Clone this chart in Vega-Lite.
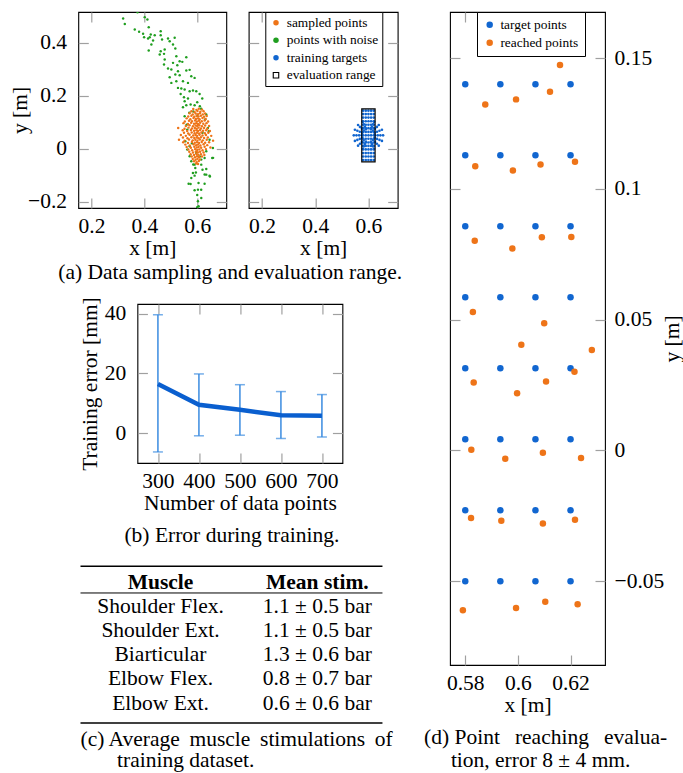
{
  "$schema": "https://vega.github.io/schema/vega-lite/v6.json",
  "padding": {"left": 9, "top": 10, "right": 0, "bottom": 0},
  "background": "white",
  "config": {
    "font": "Liberation Serif",
    "view": {"stroke": "black", "strokeWidth": 1.1},
    "axis": {"domain": false, "grid": false, "ticks": true, "tickColor": "#a0a0a0", "tickWidth": 1.2, "tickSize": -10,
             "labelFont": "Liberation Serif", "labelFontSize": 21.5, "labelColor": "black", "labelFlush": false, "labelOverlap": false,
             "titleFont": "Liberation Serif", "titleFontSize": 21.5, "titleFontWeight": "normal", "titleColor": "black"},
    "axisBottom": {"labelPadding": 17.4, "titlePadding": 1},
    "axisLeft": {"labelPadding": 21.7, "titlePadding": -4},
    "axisRight": {"labelPadding": 19, "titlePadding": -2, "titleAngle": 270, "titleBaseline": "top"},
    "title": {"font": "Liberation Serif", "fontSize": 21.5, "fontWeight": "normal", "color": "black", "orient": "bottom", "frame": "group", "offset": 9, "lineHeight": 22},
    "legend": {"labelFont": "Liberation Serif", "labelFontSize": 13.4, "labelColor": "black", "strokeColor": "black", "fillColor": "white", "padding": 5, "cornerRadius": 0, "rowPadding": 3, "labelOffset": 4}
  },
  "hconcat": [
    {
      "concat": [
        {
          "hconcat": [
            {
              "width": 148, "height": 196,
              "title": {"text": "(a) Data sampling and evaluation range.", "anchor": "start", "dx": -20, "offset": 3},
              "layer": [
                {
                  "data": {"values": [
                    {"x":0.3197,"y":0.4905},{"x":0.326,"y":0.47},{"x":0.374,"y":0.514},{"x":0.4014,"y":0.4956},{"x":0.4115,"y":0.4867},{"x":0.4165,"y":0.4578},{"x":0.3637,"y":0.449},{"x":0.3801,"y":0.4402},{"x":0.3952,"y":0.4327},{"x":0.399,"y":0.4201},{"x":0.414,"y":0.415},{"x":0.4203,"y":0.4201},{"x":0.4241,"y":0.4301},{"x":0.4392,"y":0.4276},{"x":0.4329,"y":0.4075},{"x":0.4266,"y":0.3924},{"x":0.4165,"y":0.3698},{"x":0.4618,"y":0.4427},{"x":0.4618,"y":0.4276},{"x":0.4669,"y":0.4113},{"x":0.4895,"y":0.415},{"x":0.4958,"y":0.405},{"x":0.5147,"y":0.4176},{"x":0.5084,"y":0.3924},{"x":0.5172,"y":0.3773},{"x":0.4769,"y":0.3735},{"x":0.4618,"y":0.3672},{"x":0.4744,"y":0.3572},{"x":0.4581,"y":0.3547},{"x":0.521,"y":0.3484},{"x":0.5587,"y":0.3446},{"x":0.4769,"y":0.3358},{"x":0.4744,"y":0.3169},{"x":0.4895,"y":0.3018},{"x":0.5021,"y":0.2981},{"x":0.5084,"y":0.3232},{"x":0.5247,"y":0.3144},{"x":0.5335,"y":0.3295},{"x":0.5436,"y":0.327},{"x":0.5587,"y":0.2943},{"x":0.5713,"y":0.2968},{"x":0.5272,"y":0.2918},{"x":0.5172,"y":0.2792},{"x":0.4958,"y":0.2691},{"x":0.5335,"y":0.2767},{"x":0.5776,"y":0.2729},{"x":0.5901,"y":0.2666},{"x":0.5021,"y":0.2477},{"x":0.521,"y":0.254},{"x":0.5461,"y":0.254},{"x":0.565,"y":0.2477},{"x":0.5272,"y":0.2289},{"x":0.5398,"y":0.2263},{"x":0.5524,"y":0.2226},{"x":0.5713,"y":0.2163},{"x":0.5839,"y":0.2188},{"x":0.5964,"y":0.2163},{"x":0.609,"y":0.2062},{"x":0.5373,"y":0.2062},{"x":0.5499,"y":0.1936},{"x":0.565,"y":0.1886},{"x":0.6191,"y":0.1886},{"x":0.5524,"y":0.1785},{"x":0.5587,"y":0.1634},{"x":0.575,"y":0.166},{"x":0.5901,"y":0.1634},{"x":0.5461,"y":0.1559},
                    {"x":0.5524,"y":0.1219},{"x":0.6342,"y":0.1282},{"x":0.6404,"y":0.0779},{"x":0.6442,"y":0.0653},{"x":0.6467,"y":0.033},{"x":0.6593,"y":0.0024},{"x":0.6342,"y":-0.0102},{"x":0.6279,"y":-0.0353},{"x":0.6568,"y":-0.0353},{"x":0.6153,"y":-0.0416},{"x":0.5775,"y":-0.0479},{"x":0.5713,"y":0.0087},{"x":0.5624,"y":-0.0039},{"x":0.5901,"y":-0.0605},{"x":0.6153,"y":-0.0605},{"x":0.5926,"y":-0.073},{"x":0.6342,"y":-0.0768},{"x":0.5838,"y":-0.0919},{"x":0.5901,"y":-0.102},{"x":0.6342,"y":-0.0982},{"x":0.6467,"y":-0.102},{"x":0.5775,"y":-0.1108},{"x":0.6279,"y":-0.1322},{"x":0.5675,"y":-0.1322},{"x":0.5901,"y":-0.1574},{"x":0.6027,"y":-0.1548},{"x":0.6153,"y":-0.1863},{"x":0.6027,"y":-0.1989},{"x":0.6052,"y":-0.2177},{"x":0.5624,"y":0.0716},{"x":0.5549,"y":0.0276},{"x":0.5713,"y":-0.029},{"x":0.5964,"y":-0.0164},
                    {"x":0.6,"y":-0.2215},{"x":0.575,"y":-0.1336},{"x":0.615,"y":-0.155},{"x":0.628,"y":-0.098},{"x":0.648,"y":-0.105},{"x":0.66,"y":-0.035},
                    {"x":0.57,"y":0.135},{"x":0.585,"y":0.14},{"x":0.6,"y":0.125},{"x":0.615,"y":0.15},{"x":0.56,"y":0.09},{"x":0.63,"y":0.11},{"x":0.62,"y":0.06},{"x":0.58,"y":0.02},{"x":0.61,"y":-0.03},{"x":0.595,"y":-0.09},{"x":0.605,"y":-0.13},{"x":0.6,"y":-0.175},{"x":0.585,"y":-0.06},{"x":0.62,"y":-0.08},{"x":0.61,"y":0.16},{"x":0.6,"y":0.175}
                  ]},
                  "mark": {"type": "circle", "size": 6, "color": "#1f9e1f", "opacity": 1, "clip": true},
                  "encoding": {
                    "x": {"field": "x", "type": "quantitative", "scale": {"domain": [0.15, 0.71], "nice": false, "zero": false}, "axis": {"values": [0.2, 0.4, 0.6], "format": "~g", "title": "x [m]"}},
                    "y": {"field": "y", "type": "quantitative", "scale": {"domain": [-0.224, 0.515], "nice": false, "zero": false}, "axis": {"values": [-0.2, 0, 0.2, 0.4], "format": "~g", "title": "y [m]"}}
                  }
                },
                {
                  "data": {"values": [
                    {"x":0.585,"y":0.149},{"x":0.597,"y":0.146},{"x":0.606,"y":0.15},{"x":0.618,"y":0.147},
                    {"x":0.578,"y":0.141},{"x":0.59,"y":0.138},{"x":0.601,"y":0.142},{"x":0.612,"y":0.139},{"x":0.624,"y":0.141},
                    {"x":0.571,"y":0.133},{"x":0.583,"y":0.129},{"x":0.594,"y":0.132},{"x":0.603,"y":0.13},{"x":0.61,"y":0.133},{"x":0.621,"y":0.129},{"x":0.63,"y":0.132},
                    {"x":0.566,"y":0.121},{"x":0.578,"y":0.124},{"x":0.589,"y":0.12},{"x":0.598,"y":0.123},{"x":0.605,"y":0.121},{"x":0.614,"y":0.124},{"x":0.626,"y":0.12},{"x":0.636,"y":0.123},
                    {"x":0.56,"y":0.114},{"x":0.574,"y":0.111},{"x":0.586,"y":0.115},{"x":0.595,"y":0.112},{"x":0.602,"y":0.114},{"x":0.609,"y":0.111},{"x":0.62,"y":0.115},{"x":0.632,"y":0.112},
                    {"x":0.553,"y":0.102},{"x":0.569,"y":0.105},{"x":0.58,"y":0.103},{"x":0.592,"y":0.106},{"x":0.599,"y":0.102},{"x":0.607,"y":0.105},{"x":0.617,"y":0.103},{"x":0.628,"y":0.106},{"x":0.641,"y":0.102},
                    {"x":0.548,"y":0.096},{"x":0.565,"y":0.093},{"x":0.577,"y":0.097},{"x":0.588,"y":0.094},{"x":0.596,"y":0.096},{"x":0.603,"y":0.093},{"x":0.611,"y":0.097},{"x":0.623,"y":0.094},{"x":0.635,"y":0.096},
                    {"x":0.557,"y":0.085},{"x":0.571,"y":0.088},{"x":0.584,"y":0.084},{"x":0.594,"y":0.087},{"x":0.6,"y":0.085},{"x":0.608,"y":0.088},{"x":0.618,"y":0.084},{"x":0.63,"y":0.087},{"x":0.645,"y":0.085},
                    {"x":0.528,"y":0.078},{"x":0.552,"y":0.075},{"x":0.567,"y":0.079},{"x":0.58,"y":0.076},{"x":0.591,"y":0.078},{"x":0.598,"y":0.075},{"x":0.605,"y":0.079},{"x":0.614,"y":0.076},{"x":0.626,"y":0.078},{"x":0.638,"y":0.075},
                    {"x":0.545,"y":0.069},{"x":0.562,"y":0.066},{"x":0.576,"y":0.07},{"x":0.588,"y":0.067},{"x":0.597,"y":0.069},{"x":0.603,"y":0.066},{"x":0.611,"y":0.07},{"x":0.622,"y":0.067},{"x":0.634,"y":0.069},{"x":0.648,"y":0.066},
                    {"x":0.55,"y":0.06},{"x":0.566,"y":0.057},{"x":0.579,"y":0.061},{"x":0.59,"y":0.058},{"x":0.599,"y":0.06},{"x":0.607,"y":0.057},{"x":0.616,"y":0.061},{"x":0.629,"y":0.058},{"x":0.642,"y":0.06},
                    {"x":0.538,"y":0.051},{"x":0.557,"y":0.048},{"x":0.571,"y":0.052},{"x":0.585,"y":0.049},{"x":0.594,"y":0.051},{"x":0.6,"y":0.048},{"x":0.609,"y":0.052},{"x":0.62,"y":0.049},{"x":0.633,"y":0.051},{"x":0.653,"y":0.048},
                    {"x":0.546,"y":0.042},{"x":0.563,"y":0.039},{"x":0.578,"y":0.043},{"x":0.589,"y":0.04},{"x":0.598,"y":0.042},{"x":0.605,"y":0.039},{"x":0.614,"y":0.043},{"x":0.626,"y":0.04},{"x":0.64,"y":0.042},
                    {"x":0.531,"y":0.033},{"x":0.552,"y":0.03},{"x":0.569,"y":0.034},{"x":0.583,"y":0.031},{"x":0.593,"y":0.033},{"x":0.601,"y":0.03},{"x":0.61,"y":0.034},{"x":0.621,"y":0.031},{"x":0.636,"y":0.033},{"x":0.66,"y":0.03},
                    {"x":0.547,"y":0.024},{"x":0.565,"y":0.021},{"x":0.58,"y":0.025},{"x":0.591,"y":0.022},{"x":0.599,"y":0.024},{"x":0.607,"y":0.021},{"x":0.617,"y":0.025},{"x":0.63,"y":0.022},{"x":0.645,"y":0.024},
                    {"x":0.555,"y":0.015},{"x":0.572,"y":0.012},{"x":0.586,"y":0.016},{"x":0.596,"y":0.013},{"x":0.603,"y":0.015},{"x":0.612,"y":0.012},{"x":0.624,"y":0.016},{"x":0.638,"y":0.013},
                    {"x":0.56,"y":0.006},{"x":0.576,"y":0.003},{"x":0.589,"y":0.007},{"x":0.598,"y":0.004},{"x":0.605,"y":0.006},{"x":0.615,"y":0.003},{"x":0.628,"y":0.007},{"x":0.65,"y":0.004},
                    {"x":0.566,"y":-0.003},{"x":0.581,"y":-0.006},{"x":0.592,"y":-0.002},{"x":0.6,"y":-0.005},{"x":0.608,"y":-0.003},{"x":0.62,"y":-0.006},{"x":0.633,"y":-0.002},
                    {"x":0.57,"y":-0.012},{"x":0.584,"y":-0.015},{"x":0.595,"y":-0.011},{"x":0.602,"y":-0.014},{"x":0.611,"y":-0.012},{"x":0.624,"y":-0.015},
                    {"x":0.575,"y":-0.021},{"x":0.588,"y":-0.024},{"x":0.597,"y":-0.02},{"x":0.604,"y":-0.023},{"x":0.614,"y":-0.021},{"x":0.627,"y":-0.024},
                    {"x":0.579,"y":-0.03},{"x":0.591,"y":-0.033},{"x":0.599,"y":-0.029},{"x":0.607,"y":-0.032},{"x":0.618,"y":-0.03},
                    {"x":0.583,"y":-0.039},{"x":0.594,"y":-0.042},{"x":0.601,"y":-0.038},{"x":0.61,"y":-0.041},
                    {"x":0.588,"y":-0.048},{"x":0.598,"y":-0.051},{"x":0.606,"y":-0.047},{"x":0.596,"y":-0.056},{"x":0.603,"y":-0.058}
                  ]},
                  "mark": {"type": "circle", "size": 6, "color": "#ee7418", "opacity": 1, "clip": true},
                  "encoding": {
                    "x": {"field": "x", "type": "quantitative", "scale": {"domain": [0.15, 0.71], "nice": false, "zero": false}, "axis": null},
                    "y": {"field": "y", "type": "quantitative", "scale": {"domain": [-0.224, 0.515], "nice": false, "zero": false}, "axis": null}
                  }
                },
                {
                  "data": {"values": []},
                  "mark": {"type": "point", "opacity": 0},
                  "encoding": {
                    "x": {"field": "x", "type": "quantitative", "scale": {"domain": [0.15, 0.71], "nice": false, "zero": false}, "axis": {"orient": "top", "values": [0.2, 0.4, 0.6], "labels": false, "title": null}},
                    "y": {"field": "y", "type": "quantitative", "scale": {"domain": [-0.224, 0.515], "nice": false, "zero": false}, "axis": {"orient": "right", "values": [-0.2, 0, 0.2, 0.4], "labels": false, "title": null}}
                  }
                }
              ],
              "resolve": {"axis": {"x": "independent", "y": "independent"}}
            },
            {
              "width": 149, "height": 196,
              "layer": [
                {
                  "data": {"values": [
                    {"x":0.58,"y":-0.043},{"x":0.59,"y":-0.043},{"x":0.6,"y":-0.043},{"x":0.61,"y":-0.043},{"x":0.62,"y":-0.043},
                    {"x":0.58,"y":-0.03},{"x":0.59,"y":-0.03},{"x":0.6,"y":-0.03},{"x":0.61,"y":-0.03},{"x":0.62,"y":-0.03},
                    {"x":0.58,"y":-0.017},{"x":0.59,"y":-0.017},{"x":0.6,"y":-0.017},{"x":0.61,"y":-0.017},{"x":0.62,"y":-0.017},
                    {"x":0.58,"y":-0.003},{"x":0.59,"y":-0.003},{"x":0.6,"y":-0.003},{"x":0.61,"y":-0.003},{"x":0.62,"y":-0.003},
                    {"x":0.58,"y":0.01},{"x":0.59,"y":0.01},{"x":0.6,"y":0.01},{"x":0.61,"y":0.01},{"x":0.62,"y":0.01},
                    {"x":0.58,"y":0.023},{"x":0.59,"y":0.023},{"x":0.6,"y":0.023},{"x":0.61,"y":0.023},{"x":0.62,"y":0.023},
                    {"x":0.58,"y":0.037},{"x":0.59,"y":0.037},{"x":0.6,"y":0.037},{"x":0.61,"y":0.037},{"x":0.62,"y":0.037},
                    {"x":0.58,"y":0.05},{"x":0.59,"y":0.05},{"x":0.6,"y":0.05},{"x":0.61,"y":0.05},{"x":0.62,"y":0.05},
                    {"x":0.58,"y":0.063},{"x":0.59,"y":0.063},{"x":0.6,"y":0.063},{"x":0.61,"y":0.063},{"x":0.62,"y":0.063},
                    {"x":0.58,"y":0.077},{"x":0.59,"y":0.077},{"x":0.6,"y":0.077},{"x":0.61,"y":0.077},{"x":0.62,"y":0.077},
                    {"x":0.58,"y":0.09},{"x":0.59,"y":0.09},{"x":0.6,"y":0.09},{"x":0.61,"y":0.09},{"x":0.62,"y":0.09},
                    {"x":0.58,"y":0.103},{"x":0.59,"y":0.103},{"x":0.6,"y":0.103},{"x":0.61,"y":0.103},{"x":0.62,"y":0.103},
                    {"x":0.58,"y":0.117},{"x":0.59,"y":0.117},{"x":0.6,"y":0.117},{"x":0.61,"y":0.117},{"x":0.62,"y":0.117},
                    {"x":0.58,"y":0.13},{"x":0.59,"y":0.13},{"x":0.6,"y":0.13},{"x":0.61,"y":0.13},{"x":0.62,"y":0.13},
                    {"x":0.58,"y":0.143},{"x":0.59,"y":0.143},{"x":0.6,"y":0.143},{"x":0.61,"y":0.143},{"x":0.62,"y":0.143},
                    {"x":0.625,"y":0.05},{"x":0.635,"y":0.05},{"x":0.645,"y":0.05},{"x":0.655,"y":0.05},
                    {"x":0.575,"y":0.05},{"x":0.565,"y":0.05},{"x":0.555,"y":0.05},{"x":0.545,"y":0.05},
                    {"x":0.6231,"y":0.0596},{"x":0.5769,"y":0.0596},{"x":0.6231,"y":0.0404},{"x":0.5769,"y":0.0404},
                    {"x":0.6323,"y":0.0634},{"x":0.5677,"y":0.0634},{"x":0.6323,"y":0.0366},{"x":0.5677,"y":0.0366},
                    {"x":0.6416,"y":0.0672},{"x":0.5584,"y":0.0672},{"x":0.6416,"y":0.0328},{"x":0.5584,"y":0.0328},
                    {"x":0.6508,"y":0.071},{"x":0.5492,"y":0.071},{"x":0.6508,"y":0.029},{"x":0.5492,"y":0.029},
                    {"x":0.6177,"y":0.0677},{"x":0.5823,"y":0.0677},{"x":0.6177,"y":0.0323},{"x":0.5823,"y":0.0323},
                    {"x":0.6247,"y":0.0747},{"x":0.5753,"y":0.0747},{"x":0.6247,"y":0.0253},{"x":0.5753,"y":0.0253},
                    {"x":0.6318,"y":0.0818},{"x":0.5682,"y":0.0818},{"x":0.6318,"y":0.0182},{"x":0.5682,"y":0.0182},
                    {"x":0.6389,"y":0.0889},{"x":0.5611,"y":0.0889},{"x":0.6389,"y":0.0111},{"x":0.5611,"y":0.0111},
                    {"x":0.6096,"y":0.0731},{"x":0.5904,"y":0.0731},{"x":0.6096,"y":0.0269},{"x":0.5904,"y":0.0269},
                    {"x":0.6134,"y":0.0823},{"x":0.5866,"y":0.0823},{"x":0.6134,"y":0.0177},{"x":0.5866,"y":0.0177},
                    {"x":0.6172,"y":0.0916},{"x":0.5828,"y":0.0916},{"x":0.6172,"y":0.0084},{"x":0.5828,"y":0.0084},
                    {"x":0.621,"y":0.1008},{"x":0.579,"y":0.1008},{"x":0.621,"y":-0.0008},{"x":0.579,"y":-0.0008}
                  ]},
                  "mark": {"type": "point", "filled": true, "size": 7, "opacity": 1, "strokeWidth": 1.1},
                  "encoding": {
                    "x": {"field": "x", "type": "quantitative", "scale": {"domain": [0.15, 0.71], "nice": false, "zero": false}, "axis": {"values": [0.2, 0.4, 0.6], "format": "~g", "title": "x [m]"}},
                    "y": {"field": "y", "type": "quantitative", "scale": {"domain": [-0.224, 0.515], "nice": false, "zero": false}, "axis": {"values": [-0.2, 0, 0.2, 0.4], "labels": false, "title": null}},
                    "fill": {"datum": "training targets", "type": "nominal",
                      "scale": {"domain": ["sampled points", "points with noise", "training targets", "evaluation range"], "range": ["#ee7418", "#1f9e1f", "#1166d0", "white"]},
                      "legend": {"orient": "none", "legendX": 16.6, "legendY": 0, "title": null, "symbolSize": 30, "symbolStrokeWidth": 1.1, "padding": 4, "rowPadding": 2.5}},
                    "shape": {"datum": "training targets", "type": "nominal",
                      "scale": {"domain": ["sampled points", "points with noise", "training targets", "evaluation range"], "range": ["circle", "circle", "circle", "square"]},
                      "legend": {"orient": "none", "legendX": 16.6, "legendY": 0, "title": null, "symbolSize": 30, "symbolStrokeWidth": 1.1, "padding": 4, "rowPadding": 2.5}},
                    "stroke": {"datum": "training targets", "type": "nominal",
                      "scale": {"domain": ["sampled points", "points with noise", "training targets", "evaluation range"], "range": ["transparent", "transparent", "transparent", "black"]},
                      "legend": {"orient": "none", "legendX": 16.6, "legendY": 0, "title": null, "symbolSize": 30, "symbolStrokeWidth": 1.1, "padding": 4, "rowPadding": 2.5}}
                  }
                },
                {
                  "data": {"values": [{"x": 0.575, "x2": 0.625, "y": -0.05, "y2": 0.15}]},
                  "mark": {"type": "rect", "filled": false, "stroke": "black", "strokeWidth": 1.2},
                  "encoding": {
                    "x": {"field": "x", "type": "quantitative", "scale": {"domain": [0.15, 0.71], "nice": false, "zero": false}, "axis": null},
                    "x2": {"field": "x2"},
                    "y": {"field": "y", "type": "quantitative", "scale": {"domain": [-0.224, 0.515], "nice": false, "zero": false}, "axis": null},
                    "y2": {"field": "y2"}
                  }
                },
                {
                  "data": {"values": []},
                  "mark": {"type": "point", "opacity": 0},
                  "encoding": {
                    "x": {"field": "x", "type": "quantitative", "scale": {"domain": [0.15, 0.71], "nice": false, "zero": false}, "axis": {"orient": "top", "values": [0.2, 0.4, 0.6], "labels": false, "title": null}},
                    "y": {"field": "y", "type": "quantitative", "scale": {"domain": [-0.224, 0.515], "nice": false, "zero": false}, "axis": {"orient": "right", "values": [-0.2, 0, 0.2, 0.4], "labels": false, "title": null}}
                  }
                }
              ],
              "resolve": {"axis": {"x": "independent", "y": "independent"}}
            }
          ],
          "spacing": 22.4,
          "bounds": "flush",
          "resolve": {"scale": {"fill": "independent", "color": "independent", "shape": "independent", "stroke": "independent"}, "legend": {"fill": "independent", "color": "independent", "shape": "independent", "stroke": "independent"}}
        },
        {
          "width": 205, "height": 159,
          "title": {"text": "(b) Error during training.", "anchor": "middle", "dx": -8, "offset": 11},
          "data": {"values": [
            {"n": 300, "mean": 16.4, "lo": -6.3, "hi": 39.6},
            {"n": 400, "mean": 9.5, "lo": -0.9, "hi": 19.8},
            {"n": 500, "mean": 7.8, "lo": -0.7, "hi": 16.2},
            {"n": 600, "mean": 6.0, "lo": -1.8, "hi": 13.9},
            {"n": 700, "mean": 5.8, "lo": -1.3, "hi": 12.9}
          ]},
          "layer": [
            {
              "mark": {"type": "rule", "color": "#3b8be0", "strokeWidth": 1.5},
              "encoding": {
                "x": {"field": "n", "type": "quantitative", "scale": {"domain": [250, 750], "nice": false, "zero": false}, "axis": {"values": [300, 400, 500, 600, 700], "title": "Number of data points"}},
                "y": {"field": "lo", "type": "quantitative", "scale": {"domain": [-10, 43.2], "nice": false, "zero": false}, "axis": {"values": [0, 20, 40], "title": "Training error [mm]", "titlePadding": 3}},
                "y2": {"field": "hi"}
              }
            },
            {
              "mark": {"type": "tick", "color": "#3b8be0", "thickness": 1.5, "size": 10, "orient": "horizontal"},
              "encoding": {
                "x": {"field": "n", "type": "quantitative", "scale": {"domain": [250, 750], "nice": false, "zero": false}, "axis": null},
                "y": {"field": "lo", "type": "quantitative", "scale": {"domain": [-10, 43.2], "nice": false, "zero": false}, "axis": null}
              }
            },
            {
              "mark": {"type": "tick", "color": "#3b8be0", "thickness": 1.5, "size": 10, "orient": "horizontal"},
              "encoding": {
                "x": {"field": "n", "type": "quantitative", "scale": {"domain": [250, 750], "nice": false, "zero": false}, "axis": null},
                "y": {"field": "hi", "type": "quantitative", "scale": {"domain": [-10, 43.2], "nice": false, "zero": false}, "axis": null}
              }
            },
            {
              "mark": {"type": "line", "color": "#0a5fcf", "strokeWidth": 4.5},
              "encoding": {
                "x": {"field": "n", "type": "quantitative", "scale": {"domain": [250, 750], "nice": false, "zero": false}, "axis": null},
                "y": {"field": "mean", "type": "quantitative", "scale": {"domain": [-10, 43.2], "nice": false, "zero": false}, "axis": null}
              }
            },
            {
              "data": {"values": []},
              "mark": {"type": "point", "opacity": 0},
              "encoding": {
                "x": {"field": "n", "type": "quantitative", "scale": {"domain": [250, 750], "nice": false, "zero": false}, "axis": {"orient": "top", "values": [300, 400, 500, 600, 700], "labels": false, "title": null}},
                "y": {"field": "mean", "type": "quantitative", "scale": {"domain": [-10, 43.2], "nice": false, "zero": false}, "axis": {"orient": "right", "values": [0, 20, 40], "labels": false, "title": null}}
              }
            }
          ],
          "resolve": {"axis": {"x": "independent", "y": "independent"}}
        },
        {
          "width": 320, "height": 164,
          "view": {"stroke": null},
          "title": {"text": ["(c) Average\u2009 muscle\u2009 stimulations\u2009 of", "\u200b\u00a0\u00a0\u00a0\u00a0\u00a0\u00a0\u2009training dataset."], "anchor": "start", "align": "left", "dx": 0, "offset": 5, "lineHeight": 21.5},
          "data": {"values": [
            {"row": 0, "col": 0, "text": "Muscle"},
            {"row": 0, "col": 1, "text": "Mean stim."},
            {"row": 1, "col": 0, "text": "Shoulder Flex."},
            {"row": 1, "col": 1, "text": "1.1 ± 0.5 bar"},
            {"row": 2, "col": 0, "text": "Shoulder Ext."},
            {"row": 2, "col": 1, "text": "1.1 ± 0.5 bar"},
            {"row": 3, "col": 0, "text": "Biarticular"},
            {"row": 3, "col": 1, "text": "1.3 ± 0.6 bar"},
            {"row": 4, "col": 0, "text": "Elbow Flex."},
            {"row": 4, "col": 1, "text": "0.8 ± 0.7 bar"},
            {"row": 5, "col": 0, "text": "Elbow Ext."},
            {"row": 5, "col": 1, "text": "0.6 ± 0.6 bar"}
          ]},
          "layer": [
            {
              "transform": [{"filter": "datum.row === 0"}],
              "mark": {"type": "text", "fontSize": 21.5, "fontWeight": "bold", "baseline": "middle", "align": "center", "color": "black"},
              "encoding": {
                "x": {"field": "col", "type": "quantitative", "scale": {"domain": [-0.51, 1.53], "nice": false, "zero": false}, "axis": null},
                "y": {"field": "row", "type": "quantitative", "scale": {"domain": [-0.985, 5.805], "nice": false, "zero": false, "reverse": true}, "axis": null},
                "text": {"field": "text"}
              }
            },
            {
              "transform": [{"filter": "datum.row > 0"}],
              "mark": {"type": "text", "fontSize": 21.5, "baseline": "middle", "align": "center", "color": "black"},
              "encoding": {
                "x": {"field": "col", "type": "quantitative", "scale": {"domain": [-0.51, 1.53], "nice": false, "zero": false}, "axis": null},
                "y": {"field": "row", "type": "quantitative", "scale": {"domain": [-0.985, 5.805], "nice": false, "zero": false, "reverse": true}, "axis": null},
                "text": {"field": "text"}
              }
            },
            {
              "data": {"values": [{}]},
              "mark": {"type": "rule", "color": "black", "strokeWidth": 1.6},
              "encoding": {"x": {"datum": -0.51, "type": "quantitative"}, "x2": {"datum": 1.415}, "y": {"datum": -0.683, "type": "quantitative"}}
            },
            {
              "data": {"values": [{}]},
              "mark": {"type": "rule", "color": "black", "strokeWidth": 1},
              "encoding": {"x": {"datum": -0.51, "type": "quantitative"}, "x2": {"datum": 1.415}, "y": {"datum": 0.422, "type": "quantitative"}}
            },
            {
              "data": {"values": [{}]},
              "mark": {"type": "rule", "color": "black", "strokeWidth": 1.6},
              "encoding": {"x": {"datum": -0.51, "type": "quantitative"}, "x2": {"datum": 1.415}, "y": {"datum": 5.805, "type": "quantitative"}}
            }
          ]
        }
      ],
      "columns": 1,
      "center": true,
      "spacing": 11,
      "resolve": {"scale": {"fill": "independent", "color": "independent", "shape": "independent", "stroke": "independent"}, "legend": {"fill": "independent", "color": "independent", "shape": "independent", "stroke": "independent"}}
    },
    {
      "width": 155, "height": 653,
      "title": {"text": ["(d) Point\u00a0\u2009 reaching\u00a0\u2009 evalua-", "\u200b\u00a0\u00a0\u00a0\u00a0\u00a0tion, error 8 ± 4 mm."], "anchor": "start", "align": "left", "dx": -26, "offset": 11, "lineHeight": 22.5},
      "layer": [
        {
          "data": {"values": [
            {"x":0.58,"y":0.14,"series":"target points"},{"x":0.59333,"y":0.14,"series":"target points"},{"x":0.60667,"y":0.14,"series":"target points"},{"x":0.62,"y":0.14,"series":"target points"},
            {"x":0.58,"y":0.11286,"series":"target points"},{"x":0.59333,"y":0.11286,"series":"target points"},{"x":0.60667,"y":0.11286,"series":"target points"},{"x":0.62,"y":0.11286,"series":"target points"},
            {"x":0.58,"y":0.08571,"series":"target points"},{"x":0.59333,"y":0.08571,"series":"target points"},{"x":0.60667,"y":0.08571,"series":"target points"},{"x":0.62,"y":0.08571,"series":"target points"},
            {"x":0.58,"y":0.05857,"series":"target points"},{"x":0.59333,"y":0.05857,"series":"target points"},{"x":0.60667,"y":0.05857,"series":"target points"},{"x":0.62,"y":0.05857,"series":"target points"},
            {"x":0.58,"y":0.03143,"series":"target points"},{"x":0.59333,"y":0.03143,"series":"target points"},{"x":0.60667,"y":0.03143,"series":"target points"},{"x":0.62,"y":0.03143,"series":"target points"},
            {"x":0.58,"y":0.00429,"series":"target points"},{"x":0.59333,"y":0.00429,"series":"target points"},{"x":0.60667,"y":0.00429,"series":"target points"},{"x":0.62,"y":0.00429,"series":"target points"},
            {"x":0.58,"y":-0.02286,"series":"target points"},{"x":0.59333,"y":-0.02286,"series":"target points"},{"x":0.60667,"y":-0.02286,"series":"target points"},{"x":0.62,"y":-0.02286,"series":"target points"},
            {"x":0.58,"y":-0.05,"series":"target points"},{"x":0.59333,"y":-0.05,"series":"target points"},{"x":0.60667,"y":-0.05,"series":"target points"},{"x":0.62,"y":-0.05,"series":"target points"},
            {"x":0.5876,"y":0.1322,"series":"reached points"},{"x":0.5993,"y":0.1342,"series":"reached points"},{"x":0.6122,"y":0.1371,"series":"reached points"},{"x":0.616,"y":0.1473,"series":"reached points"},
            {"x":0.5838,"y":0.1086,"series":"reached points"},{"x":0.5981,"y":0.107,"series":"reached points"},{"x":0.6086,"y":0.1093,"series":"reached points"},{"x":0.6217,"y":0.1104,"series":"reached points"},
            {"x":0.5836,"y":0.0802,"series":"reached points"},{"x":0.5979,"y":0.0772,"series":"reached points"},{"x":0.6091,"y":0.0815,"series":"reached points"},{"x":0.6203,"y":0.0816,"series":"reached points"},
            {"x":0.5829,"y":0.0529,"series":"reached points"},{"x":0.61,"y":0.0486,"series":"reached points"},{"x":0.6013,"y":0.0404,"series":"reached points"},{"x":0.6281,"y":0.0384,"series":"reached points"},
            {"x":0.5832,"y":0.026,"series":"reached points"},{"x":0.5997,"y":0.0219,"series":"reached points"},{"x":0.6107,"y":0.0264,"series":"reached points"},{"x":0.6215,"y":0.0301,"series":"reached points"},
            {"x":0.5823,"y":0.0003,"series":"reached points"},{"x":0.5952,"y":-0.0032,"series":"reached points"},{"x":0.6095,"y":-0.0009,"series":"reached points"},{"x":0.624,"y":-0.0029,"series":"reached points"},
            {"x":0.5822,"y":-0.0258,"series":"reached points"},{"x":0.5937,"y":-0.0269,"series":"reached points"},{"x":0.6095,"y":-0.0279,"series":"reached points"},{"x":0.6217,"y":-0.0265,"series":"reached points"},
            {"x":0.5791,"y":-0.0611,"series":"reached points"},{"x":0.5993,"y":-0.0602,"series":"reached points"},{"x":0.6104,"y":-0.0578,"series":"reached points"},{"x":0.6227,"y":-0.0588,"series":"reached points"}
          ]},
          "mark": {"type": "circle", "size": 42, "opacity": 1},
          "encoding": {
            "x": {"field": "x", "type": "quantitative", "scale": {"domain": [0.5742, 0.6331], "nice": false, "zero": false}, "axis": {"values": [0.58, 0.6, 0.62], "format": "~g", "title": "x [m]"}},
            "y": {"field": "y", "type": "quantitative", "scale": {"domain": [-0.082, 0.1676], "nice": false, "zero": false}, "axis": {"orient": "right", "values": [-0.05, 0, 0.05, 0.1, 0.15], "format": "~g", "title": "y [m]"}},
            "color": {"field": "series", "type": "nominal", "sort": null,
              "scale": {"domain": ["target points", "reached points"], "range": ["#1166d0", "#ee7418"]},
              "legend": {"orient": "none", "legendX": 27, "legendY": 0, "title": null, "symbolSize": 42, "symbolType": "circle", "padding": 6, "rowPadding": 3}}
          }
        },
        {
          "data": {"values": []},
          "mark": {"type": "point", "opacity": 0},
          "encoding": {
            "x": {"field": "x", "type": "quantitative", "scale": {"domain": [0.5742, 0.6331], "nice": false, "zero": false}, "axis": {"orient": "top", "values": [0.58, 0.6, 0.62], "labels": false, "title": null}},
            "y": {"field": "y", "type": "quantitative", "scale": {"domain": [-0.082, 0.1676], "nice": false, "zero": false}, "axis": {"orient": "left", "values": [-0.05, 0, 0.05, 0.1, 0.15], "labels": false, "title": null}}
          }
        }
      ],
      "resolve": {"axis": {"x": "independent", "y": "independent"}}
    }
  ],
  "spacing": 20,
  "resolve": {"scale": {"fill": "independent", "color": "independent", "shape": "independent", "stroke": "independent"}, "legend": {"fill": "independent", "color": "independent", "shape": "independent", "stroke": "independent"}}
}
